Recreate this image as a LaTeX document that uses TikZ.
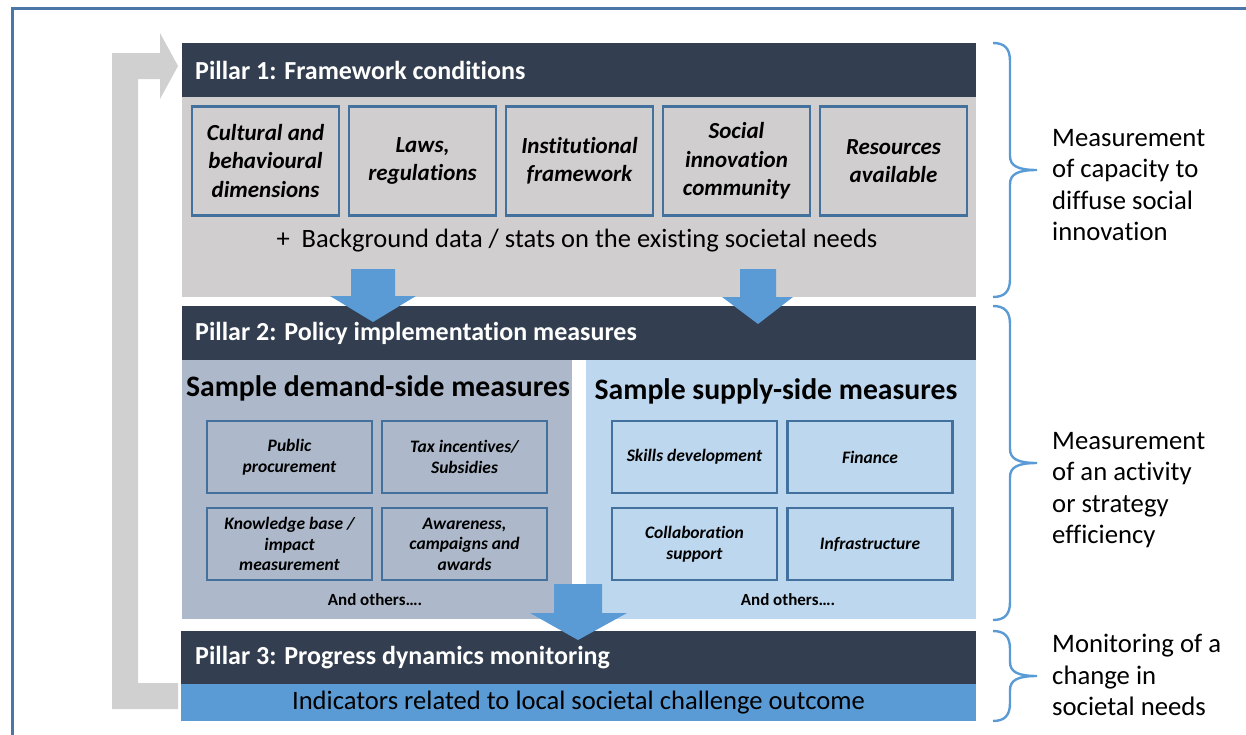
\documentclass[tikz,border=0pt]{standalone}
\usepackage{fontspec}
\setmainfont{Carlito}[Ligatures=NoCommon]
\definecolor{navy}{HTML}{333F50}
\definecolor{pgrey}{HTML}{D0CECE}
\definecolor{boxblue}{HTML}{41719C}
\definecolor{demandbg}{HTML}{ADB9CA}
\definecolor{supplybg}{HTML}{BDD7EE}
\definecolor{arrowblue}{HTML}{5B9BD5}
\definecolor{loopgrey}{HTML}{D0D0D0}
\definecolor{framecol}{HTML}{4A77A8}
\newcommand\setfs[2]{\fontsize{#1}{#2}\selectfont}
% curly brace opening to the left, tip pointing right: top, bottom, middle
\newcommand\measbrace[3]{%
  \draw[bracestyle] (993,#1) .. controls (1005,#1) and (1010,#1+6) .. (1010,#1+18)
    -- (1010,#3-14) .. controls (1010,#3-4) and (1018,#3) .. (1037,#3)
    .. controls (1018,#3) and (1010,#3+4) .. (1010,#3+14)
    -- (1010,#2-18) .. controls (1010,#2-6) and (1005,#2) .. (993,#2);}
\begin{document}
\begin{tikzpicture}[x=1pt,y=-1pt,
  panel/.style={inner sep=0pt, outer sep=0pt, anchor=north west},
  hdrtext/.style={text=white, font=\bfseries\setfs{26}{31}, anchor=west, inner sep=0pt},
  fwbox/.style={draw=boxblue, line width=2.8pt, fill=pgrey, minimum width=147pt,
    minimum height=109pt, align=center, inner sep=0pt,
    font=\bfseries\itshape\setfs{23}{28.5}},
  msbox/.style={draw=boxblue, line width=2.6pt, minimum width=165pt,
    minimum height=72pt, align=center, inner sep=0pt,
    font=\bfseries\itshape\setfs{17.5}{20.5}},
  subtitle/.style={font=\bfseries\setfs{29.7}{35}, inner sep=0pt},
  others/.style={font=\bfseries\setfs{17}{20}, inner sep=0pt},
  sidetext/.style={font=\setfs{26.7}{31.5}, align=left, anchor=west, inner sep=0pt},
  bracestyle/.style={draw=arrowblue, line width=2.4pt},
  blockarrow/.style={fill=arrowblue}]
\useasboundingbox (0,0) rectangle (1246,734);

% outer frame
\draw[framecol, line width=3pt] (12,745) -- (12,8) -- (1256,8);

% feedback loop arrow from pillar 3 back to pillar 1
\fill[loopgrey] (112,709) -- (112,53) -- (160,53) -- (160,33) -- (178,66)
  -- (160,99) -- (160,79) -- (138,79) -- (138,683) -- (178,683) -- (178,709) -- cycle;

% Pillar 1
\node[panel, fill=navy, minimum width=794pt, minimum height=54pt] (p1) at (182,43) {};
\node[hdrtext] (p1t) at ([xshift=13pt]p1.west) {Pillar 1: Framework conditions};
\node[panel, fill=pgrey, minimum width=794pt, minimum height=200pt] (p1b) at (182,97) {};
\node[fwbox] (f1) at (265.5,161) {Cultural and\\behavioural\\dimensions};
\node[fwbox] (f2) at (422.5,161) {Laws,\\regulations};
\node[fwbox] (f3) at (579.5,161) {Institutional\\framework};
\node[fwbox] (f4) at (736.5,161) {Social\\innovation\\community};
\node[fwbox] (f5) at (893.5,161) {Resources\\available};
\node[font=\setfs{26.5}{31}, inner sep=0pt] (bg) at (577,241)
  {+\ \ Background data / stats on the existing societal needs};

% Pillar 2
\node[panel, fill=navy, minimum width=794pt, minimum height=54pt] (p2) at (182,306) {};
\node[hdrtext] (p2t) at ([xshift=13pt]p2.west) {Pillar 2: Policy implementation measures};
\node[panel, fill=demandbg, minimum width=390pt, minimum height=259pt] (dem) at (182,360) {};
\node[panel, fill=supplybg, minimum width=390pt, minimum height=259pt] (sup) at (586,360) {};
\node[subtitle] (demt) at (378,388) {Sample demand-side measures};
\node[subtitle] (supt) at (776,391) {Sample supply-side measures};

\node[msbox] (d1) at (289.5,457) {Public\\procurement};
\node[msbox] (d2) at (464.5,457) {Tax incentives/\\Subsidies};
\node[msbox] (d3) at (289.5,544) {Knowledge base /\\impact\\measurement};
\node[msbox] (d4) at (464.5,544) {Awareness,\\campaigns and\\awards};
\node[others] (dother) at (375,600) {And others\dots.};

\node[msbox] (s1) at (694.5,457) {Skills development};
\node[msbox] (s2) at (870,457) {Finance};
\node[msbox] (s3) at (694.5,544) {Collaboration\\support};
\node[msbox] (s4) at (870,544) {Infrastructure};
\node[others] (sother) at (788,600) {And others\dots.};

% Pillar 3
\node[panel, fill=navy, minimum width=795pt, minimum height=53pt] (p3) at (181,631) {};
\node[hdrtext] (p3t) at ([xshift=14pt]p3.west) {Pillar 3: Progress dynamics monitoring};
\node[panel, fill=arrowblue, minimum width=795pt, minimum height=37pt] (ind) at (181,684) {};
\node[font=\setfs{26.6}{31}, inner sep=0pt] (indt) at (ind.center)
  {Indicators related to local societal challenge outcome};

% block arrows between the pillars
\fill[blockarrow] (351,269) -- (395,269) -- (395,296) -- (416,296) -- (373,322)
  -- (330,296) -- (351,296) -- cycle;
\fill[blockarrow] (740,269) -- (776,269) -- (776,297) -- (793,297) -- (758,324)
  -- (722,297) -- (740,297) -- cycle;
\fill[blockarrow] (554,584) -- (602,584) -- (602,613) -- (627,613) -- (578,640)
  -- (530,613) -- (554,613) -- cycle;

% braces and their explanations
\measbrace{43}{297}{170}
\measbrace{306}{620}{463}
\measbrace{631}{721}{676}
\node[sidetext] (m1) at (1052,185) {Measurement\\of capacity to\\diffuse social\\innovation};
\node[sidetext] (m2) at (1052,490) {Measurement\\of an activity\\or strategy\\efficiency};
\node[sidetext] (m3) at (1052,675) {Monitoring of a\\change in\\societal needs};
\end{tikzpicture}
\end{document}
